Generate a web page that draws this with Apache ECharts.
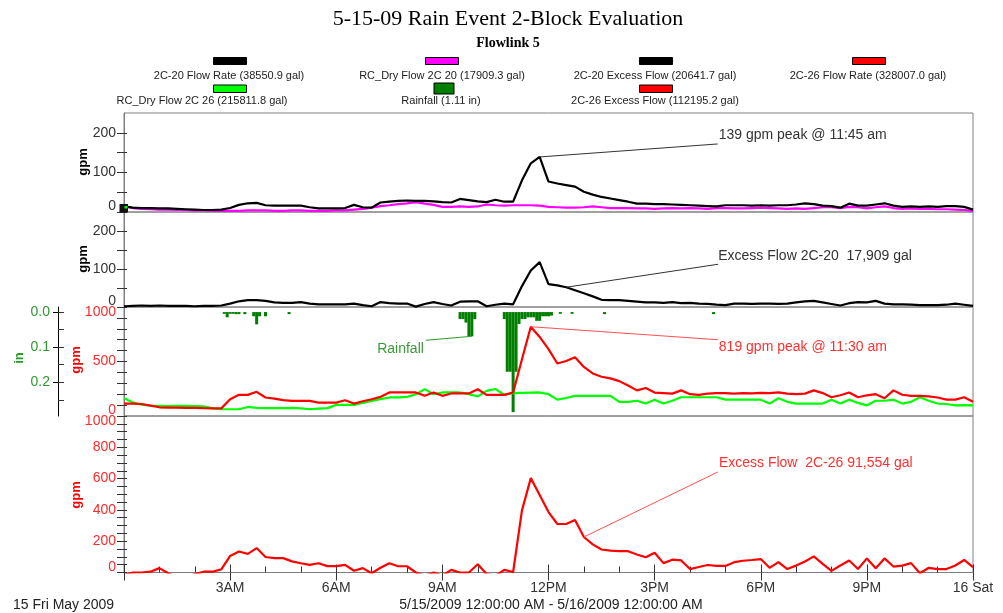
<!DOCTYPE html>
<html><head><meta charset="utf-8">
<script src="https://cdn.jsdelivr.net/npm/echarts@6/dist/echarts.min.js"></script>
<style>html,body{margin:0;padding:0;background:#fff}#c{width:1003px;height:613px}</style>
</head><body><div id="c"></div>
<script>
// ---------------- data ----------------
const chartTitle = '5-15-09 Rain Event 2-Block Evaluation';
const chartSubtitle = 'Flowlink 5';
const hourTickLabels = ['', '3AM', '6AM', '9AM', '12PM', '3PM', '6PM', '9PM', '16 Sat'];
const dateLabel = '15 Fri May 2009';
const rangeLabel = '5/15/2009 12:00:00 AM - 5/16/2009 12:00:00 AM';
const stepMinutes = 15;

const legendLabels = ['2C-20 Flow Rate (38550.9 gal)', 'RC_Dry Flow 2C 20 (17909.3 gal)', '2C-20 Excess Flow (20641.7 gal)', '2C-26 Flow Rate (328007.0 gal)',
  'RC_Dry Flow 2C 26 (215811.8 gal)', 'Rainfall (1.11 in)', '2C-26 Excess Flow (112195.2 gal)'];

// 15-minute values, 00:00 .. 24:00
const flow20 = [14,11,10,10, 9,9,8,7, 6,5,5,6, 10,18,22,23, 17,16,16,16, 16,12,9,9, 9,10,18,12, 11,24,26,28,
  29,28,28,27, 25,24,33,30, 27,25,31,26, 26,80,123,139, 77,72,68,64, 51,44,38,34, 30,26,21,21, 20,20,19,18,
  17,16,15,14, 17,17,17,16, 17,16,17,17, 19,22,20,16, 15,11,21,16, 16,19,22,16, 13,14,13,14, 13,15,15,13, 6];
const dry20 = [14,10,8,7, 6,6,5,5, 4,4,3,3, 3,3,4,4, 4,3,3,4, 4,3,3,3, 4,4,6,8, 11,15,17,20, 22,25,21,18,
  13,13,14,13, 14,19,17,16, 17,17,17,16, 13,12,11,11, 12,14,12,10, 10,10,9,9, 8,9,10,9, 10,9,8,10,
  10,9,9,10, 11,10,9,8, 9,8,10,12, 12,10,13,12, 9,12,14,10, 8,9,8,8, 7,7,6,5, 3];
const excess20 = [2,3,4,3, 4,3,3,3, 2,3,3,4, 9,15,18,18, 16,12,11,11, 13,9,7,7, 7,7,9,5, 2,13,10,9,
  9,1,8,13, 8,4,14,15, 15,2,6,9, 7,55,96,118, 60,57,52,44, 36,28,19,18, 18,16,14,12, 12,11,13,10,
  11,9,8,6, 5,9,9,8, 9,9,8,9, 12,15,16,12, 8,4,10,13, 12,16,9,7, 7,6,5,5, 5,6,9,6, 3];
const flow26 = [114,114,110,95, 80,77,77,75, 75,72,70,70, 154,194,194,222, 170,160,145,139, 139,139,123,123,
  123,145,114,135, 154,175,216,216, 216,216,185,216, 185,207,207,207, 245,194,194,194, 216,520,819,725,
  614,482,505,540, 450,390,360,345, 320,280,235,257, 215,210,205,235, 200,194,205,210, 210,205,210,208,
  212,210,216,205, 200,205,235,210, 172,190,216,172, 190,200,163,235, 195,185,185,180, 170,150,150,172, 130];
const dry26 = [164,123,105,95, 93,90,93,92, 90,88,70,62, 62,62,83,75, 73,72,73,75, 70,62,68,72,
  102,102,102,120, 139,155,170,170, 175,200,247,200, 216,216,216,200, 180,230,248,194, 210,212,214,216,
  200,150,165,185, 185,185,185,185, 130,130,140,114, 150,114,140,172, 172,172,172,172, 150,150,150,150,
  150,114,163,130, 114,114,114,114, 150,114,150,120, 98,140,140,150, 114,130,172,140, 114,110,98,100, 98];
const excess26 = [-15,0,0,5, 28,-5,-30,-30, -10,5,5,20, 106,134,119,156, 99,92,92,71, 59,49,59,41,
  41,49,11,28, -5,30,59,40, 40,0,-20,0, -20,17,0,0, 53,-10,-20,17, 3,397,603,495,
  386,310,310,336, 227,180,147,140, 136,136,115,97, 126,60,82,77, 22,35,48,42, 42,66,75,80,
  86,30,66,22, 44,70,103,55, 10,45,77,22, 90,27,90,38, 44,60,-5,30, 22,22,45,80, 35];

// rainfall, 5-minute buckets: minute of day -> inches
const rainMinutes = [170,175,180,185, 190,195,205, 220,225,230,240, 280,
  570,575,580,585,590,595,
  645,650,655,660,665,670,675,680,685,690,695,700,705,710,715,720,725, 740,760,815,1000];
const rainInches = [0.005,0.015,0.005,0.005, 0.006,0.006,0.006, 0.012,0.035,0.012,0.012, 0.006,
  0.02,0.02,0.03,0.069,0.069,0.02,
  0.02,0.17,0.17,0.285,0.17,0.034,0.02,0.02,0.015,0.015,0.015,0.025,0.025,0.012,0.012,0.012,0.01, 0.005,0.005,0.006,0.006];

const annotationTexts = ['139 gpm peak @ 11:45 am', 'Excess Flow 2C-20  17,909 gal', '819 gpm peak @ 11:30 am', 'Rainfall', 'Excess Flow  2C-26 91,554 gal'];
const annotationAt = [[11.75, 139], [12.5, 52], [11.5, 819], [590 / 60, 0.069], [13, 227]];

// ---------------- chart ----------------
const SANS = '"Liberation Sans", Arial, sans-serif';
const SERIF = '"Liberation Serif", "Times New Roman", serif';
const GREY = '#808080', TICK = '#333', RED = '#ff2a2a', GREENTXT = '#2e9a2e';
const T = flow20.map((_, i) => i * stepMinutes / 60);
const pairs = arr => arr.map((v, i) => [T[i], v]);
const rainPairs = rainMinutes.map((m, i) => [m / 60, rainInches[i]]);

const grids = [
  {left: 124, right: 30, top: 113, height: 99},
  {left: 124, right: 30, top: 212, height: 95},
  {left: 124, right: 30, top: 307, height: 109},
  {left: 124, right: 30, top: 416, height: 156.5}
].map(g => Object.assign(g, {show: true, borderColor: GREY, borderWidth: 1, backgroundColor: 'transparent', outerBoundsMode: 'none', containLabel: false}));

function range(a, b, s) { const r = []; for (let v = a; v <= b + 1e-9; v += s) r.push(+v.toFixed(4)); return r; }

function mainY(grid, max, labelVals, tickVals, color) {
  return {
    type: 'value', gridIndex: grid, position: 'left', min: 0, max: max,
    axisLine: {show: true, lineStyle: {color: GREY, width: 1}},
    axisTick: {show: true, length: 7, customValues: tickVals, lineStyle: {color: TICK}},
    splitLine: {show: false},
    axisLabel: {
      customValues: labelVals, color: color, fontSize: 14, fontFamily: SANS, margin: 8,
      formatter: v => v === 0 ? '{lo|0}' : (v === max ? '{hi|' + v + '}' : String(v)),
      rich: {
        lo: {padding: [0, 0, 11, 0], color: color, fontSize: 14, fontFamily: SANS},
        hi: {padding: [10, 0, 0, 0], color: color, fontSize: 14, fontFamily: SANS}
      }
    }
  };
}
function innerY(grid, min, max, tickVals, offset, inverse, len) {
  return {
    type: 'value', gridIndex: grid, position: 'left', offset: offset || 0, min: min, max: max, inverse: !!inverse,
    axisLine: {show: false}, axisLabel: {show: false}, splitLine: {show: false},
    axisTick: {show: true, inside: true, length: len || 3, customValues: tickVals, lineStyle: {color: TICK}}
  };
}
const rainMin = -0.0144, rainMax = 0.296;
const yAxes = [
  mainY(0, 250, [0, 100, 200], range(0, 200, 50), TICK),
  mainY(1, 250, [0, 100, 200], range(0, 200, 50), TICK),
  mainY(2, 1000, [0, 500, 1000], range(0, 1000, 100), RED),
  {
    type: 'value', gridIndex: 2, position: 'left', offset: 66, min: rainMin, max: rainMax, inverse: true,
    axisLine: {show: true, lineStyle: {color: '#000', width: 1}},
    axisTick: {show: true, length: 5, customValues: [0, 0.1, 0.2], lineStyle: {color: '#000'}},
    splitLine: {show: false},
    axisLabel: {customValues: [0, 0.1, 0.2], color: GREENTXT, fontSize: 14, fontFamily: SANS, margin: 8, formatter: v => v.toFixed(1)}
  },
  mainY(3, 1000, range(0, 1000, 200), range(0, 1000, 50), RED),
  innerY(0, 0, 250, range(0, 200, 50)),
  innerY(1, 0, 250, range(0, 200, 50)),
  innerY(2, 0, 1000, range(0, 1000, 100)),
  innerY(2, rainMin, rainMax, range(0, 0.25, 0.05), 66, true, 6),
  innerY(3, 0, 1000, range(0, 1000, 50))
];

const hiddenX = g => ({type: 'value', gridIndex: g, min: 0, max: 24, show: false});
const xAxes = [hiddenX(0), hiddenX(1), hiddenX(2),
  {
    type: 'value', gridIndex: 3, position: 'bottom', min: 0, max: 24, interval: 3,
    axisLine: {show: true, lineStyle: {color: GREY}},
    axisTick: {show: true, length: 8, lineStyle: {color: TICK}},
    splitLine: {show: false},
    axisLabel: {color: TICK, fontSize: 14, fontFamily: SANS, margin: 9, showMinLabel: true, showMaxLabel: true,
      formatter: v => hourTickLabels[Math.round(v / 3)] || ''}
  },
  {
    type: 'value', gridIndex: 3, position: 'bottom', min: 0, max: 24, interval: 3,
    axisLine: {show: false}, axisLabel: {show: false}, splitLine: {show: false}, minorSplitLine: {show: false},
    axisTick: {show: true, inside: true, length: 8, lineStyle: {color: TICK}},
    minorTick: {show: true, splitNumber: 3, length: 6, lineStyle: {color: TICK}}
  }
];

const lineS = (name, data, xi, yi, color, z) => ({
  name, type: 'line', data: pairs(data), xAxisIndex: xi, yAxisIndex: yi, showSymbol: false, symbol: 'none',
  lineStyle: {color, width: 2.2}, itemStyle: {color}, z: z, clip: true, animation: false
});

const series = [
  lineS('RC_Dry Flow 2C 20', dry20, 0, 0, '#ff00ff', 2),
  lineS('2C-20 Flow Rate', flow20, 0, 0, '#000000', 3),
  lineS('2C-20 Excess Flow', excess20, 1, 1, '#000000', 3),
  {name: 'Rainfall', type: 'bar', data: rainPairs, xAxisIndex: 2, yAxisIndex: 3, barWidth: 3,
    itemStyle: {color: '#007f00'}, z: 2, animation: false},
  lineS('RC_Dry Flow 2C 26', dry26, 2, 2, '#00ff00', 3),
  lineS('2C-26 Flow Rate', flow26, 2, 2, '#ff0000', 4),
  lineS('2C-26 Excess Flow', excess26, 3, 4, '#ff0000', 3)
];

const chart = echarts.init(document.getElementById('c'), null, {renderer: 'canvas'});
chart.setOption({
  animation: false, backgroundColor: '#fff',
  grid: grids, xAxis: xAxes, yAxis: yAxes, series: series
});

// ---------------- decorations (layout) ----------------
const gfx = [];
const txt = (x, y, text, o) => gfx.push({type: 'text', x, y, z: 10, rotation: o.rot || 0, style: {
  text, fill: o.fill || '#000', fontSize: o.size || 14, fontFamily: o.family || SANS, fontWeight: o.weight || 'normal',
  align: o.align || 'center', verticalAlign: 'middle'}});
txt(508, 19.5, chartTitle, {size: 22, family: SERIF});
txt(508, 43, chartSubtitle, {size: 14, family: SERIF, weight: 'bold'});

const legendColors = ['#000000', '#ff00ff', '#000000', '#ff0000', '#00ff00', '#007f00', '#ff0000'];
const legendSlots = [[230, 57.5, 33, 7, 229, 75.5], [442, 57.5, 33, 7, 442, 75.5], [656, 57.5, 33, 7, 655, 75.5], [869, 57.5, 33, 7, 868, 75.5],
  [230, 85, 33, 7.5, 202, 101], [444, 83, 20, 11, 441, 101], [656, 85, 33, 7.5, 655, 101]];
legendLabels.forEach((lab, i) => {
  const s = legendSlots[i];
  gfx.push({type: 'rect', z: 10, shape: {x: s[0] - s[2] / 2, y: s[1], width: s[2], height: s[3]},
    style: {fill: legendColors[i], stroke: '#000', lineWidth: 1}});
  txt(s[4], s[5], lab, {size: 11, fill: '#222'});
});

// small start marker seen at the origin of the top panel
gfx.push({type: 'rect', z: 11, shape: {x: 119.5, y: 204, width: 8.5, height: 8.5}, style: {fill: '#111'}});
gfx.push({type: 'rect', z: 12, shape: {x: 124.5, y: 206, width: 3, height: 2.5}, style: {fill: '#00ff00'}});

// axis titles
txt(83, 162, 'gpm', {size: 13, weight: 'bold', rot: Math.PI / 2});
txt(83, 259, 'gpm', {size: 13, weight: 'bold', rot: Math.PI / 2});
txt(76, 360, 'gpm', {size: 13, weight: 'bold', rot: Math.PI / 2, fill: '#ff0000'});
txt(19, 358, 'in', {size: 13, weight: 'bold', rot: Math.PI / 2, fill: '#2a9a2a'});
txt(76, 495, 'gpm', {size: 13, weight: 'bold', rot: Math.PI / 2, fill: '#ff0000'});

txt(13, 605, dateLabel, {size: 14, align: 'left', fill: '#222'});
txt(551, 605, rangeLabel, {size: 14, fill: '#222'});

// annotations: [xAxisIndex, yAxisIndex, lineEnd dx, dy, text dx, dy, align, line colour, text colour]
const annoLayout = [
  [0, 0, 178, -13, 179, -22, 'left', '#333', '#333'],
  [1, 1, 152, -23, 152, -31, 'left', '#333', '#333'],
  [2, 2, 187, 13, 188, 20, 'left', '#ff5050', '#ff3030'],
  [2, 3, -46, 4, -48, 13, 'right', '#2a9a2a', '#3a9a3a'],
  [3, 4, 134, -65, 135, -74, 'left', '#ff5050', '#ff3030']
];
annotationTexts.forEach((t, i) => {
  const L = annoLayout[i];
  const p = chart.convertToPixel({xAxisIndex: L[0], yAxisIndex: L[1]}, annotationAt[i]);
  gfx.push({type: 'line', z: 9, shape: {x1: p[0], y1: p[1], x2: p[0] + L[2], y2: p[1] + L[3]},
    style: {stroke: L[7], lineWidth: 1}});
  txt(p[0] + L[4], p[1] + L[5], t, {size: 14, align: L[6], fill: L[8]});
});

chart.setOption({graphic: {elements: gfx}});
</script>
</body></html>
